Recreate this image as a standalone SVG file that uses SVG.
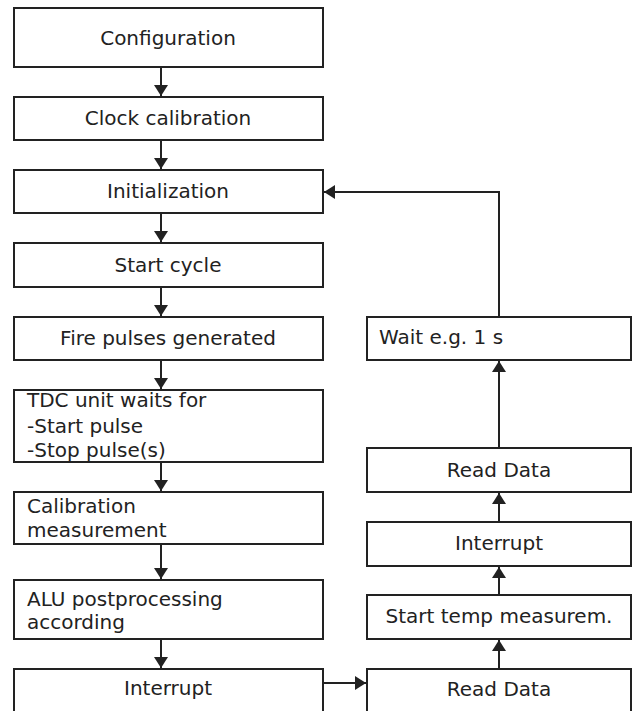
<svg xmlns="http://www.w3.org/2000/svg" width="633" height="711" viewBox="0 0 633 711">
<style>
.box{fill:#fff;stroke:#222;stroke-width:2}
.t{font-family:"DejaVu Sans",Verdana,sans-serif;font-size:20px;fill:#222}
.c{text-anchor:middle}
.edge{fill:none;stroke:#222;stroke-width:2}
</style>
<defs>
<marker id="ah" viewBox="0 0 11 14" refX="11" refY="7" markerWidth="11" markerHeight="14" markerUnits="userSpaceOnUse" orient="auto">
<path d="M0,0 L11,7 L0,14 Z" fill="#222"/>
</marker>
</defs>
<rect width="633" height="711" fill="#fff"/>
<g id="connectors">
<line class="edge" x1="161" y1="67" x2="161" y2="96" marker-end="url(#ah)"/>
<line class="edge" x1="161" y1="140" x2="161" y2="169" marker-end="url(#ah)"/>
<line class="edge" x1="161" y1="213" x2="161" y2="242" marker-end="url(#ah)"/>
<line class="edge" x1="161" y1="287" x2="161" y2="316" marker-end="url(#ah)"/>
<line class="edge" x1="161" y1="360" x2="161" y2="389" marker-end="url(#ah)"/>
<line class="edge" x1="161" y1="462" x2="161" y2="491" marker-end="url(#ah)"/>
<line class="edge" x1="161" y1="544" x2="161" y2="579" marker-end="url(#ah)"/>
<line class="edge" x1="161" y1="639" x2="161" y2="668" marker-end="url(#ah)"/>
<line class="edge" x1="323" y1="683" x2="366" y2="683" marker-end="url(#ah)"/>
<line class="edge" x1="499" y1="669" x2="499" y2="640" marker-end="url(#ah)"/>
<line class="edge" x1="499" y1="595" x2="499" y2="567" marker-end="url(#ah)"/>
<line class="edge" x1="499" y1="522" x2="499" y2="493" marker-end="url(#ah)"/>
<line class="edge" x1="499" y1="448" x2="499" y2="361" marker-end="url(#ah)"/>
<polyline class="edge" points="499,317 499,192 324,192" marker-end="url(#ah)"/>
</g>
<g id="configuration"><rect class="box" x="14" y="8" width="309" height="59"/><text class="t c" x="168" y="45">Configuration</text></g>
<g id="clock-calibration"><rect class="box" x="14" y="97" width="309" height="43"/><text class="t c" x="168" y="125">Clock calibration</text></g>
<g id="initialization"><rect class="box" x="14" y="170" width="309" height="43"/><text class="t c" x="168" y="198">Initialization</text></g>
<g id="start-cycle"><rect class="box" x="14" y="243" width="309" height="44"/><text class="t c" x="168" y="272">Start cycle</text></g>
<g id="fire-pulses"><rect class="box" x="14" y="317" width="309" height="43"/><text class="t c" x="168" y="345">Fire pulses generated</text></g>
<g id="tdc-wait"><rect class="box" x="14" y="390" width="309" height="72"/><text class="t" x="27" y="407">TDC unit waits for</text><text class="t" x="27" y="433">-Start pulse</text><text class="t" x="27" y="457">-Stop pulse(s)</text></g>
<g id="calibration-measurement"><rect class="box" x="14" y="492" width="309" height="52"/><text class="t" x="27" y="513">Calibration</text><text class="t" x="27" y="537">measurement</text></g>
<g id="alu-postprocessing"><rect class="box" x="14" y="580" width="309" height="59"/><text class="t" x="27" y="606">ALU postprocessing</text><text class="t" x="27" y="629">according</text></g>
<g id="interrupt-left"><rect class="box" x="14" y="669" width="309" height="60"/><text class="t c" x="168" y="695">Interrupt</text></g>
<g id="wait"><rect class="box" x="367" y="317" width="264" height="43"/><text class="t" x="379" y="344">Wait e.g. 1 s</text></g>
<g id="read-data-top"><rect class="box" x="367" y="448" width="264" height="44"/><text class="t c" x="499" y="477">Read Data</text></g>
<g id="interrupt-right"><rect class="box" x="367" y="522" width="264" height="44"/><text class="t c" x="499" y="550">Interrupt</text></g>
<g id="start-temp"><rect class="box" x="367" y="595" width="264" height="44"/><text class="t c" x="499" y="623">Start temp measurem.</text></g>
<g id="read-data-bottom"><rect class="box" x="367" y="669" width="264" height="60"/><text class="t c" x="499" y="696">Read Data</text></g>
</svg>
